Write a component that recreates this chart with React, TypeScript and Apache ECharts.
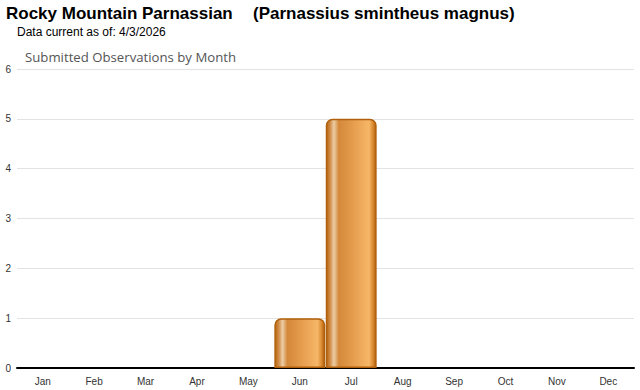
import React, { useEffect, useRef } from "react";
import * as echarts from "echarts";

const months = ["Jan", "Feb", "Mar", "Apr", "May", "Jun", "Jul", "Aug", "Sep", "Oct", "Nov", "Dec"];
const observations = [0, 0, 0, 0, 0, 1, 5, 0, 0, 0, 0, 0];
const yTicks = [0, 1, 2, 3, 4, 5, 6];
const titleMain = "Rocky Mountain Parnassian";
const titleSci = "(Parnassius smintheus magnus)";
const subtitle = "Data current as of: 4/3/2026";
const chartTitle = "Submitted Observations by Month";

export default function App() {
  const ref = useRef<HTMLDivElement>(null);
  useEffect(() => {
    if (!ref.current) return;
    const chart = echarts.init(ref.current, undefined, { renderer: "svg" });
    const barFill = new echarts.graphic.LinearGradient(0, 0, 1, 0, [
      { offset: 0, color: "#b8680f" },
      { offset: 0.07, color: "#cf8a45" },
      { offset: 0.15, color: "#ecccA4" },
      { offset: 0.25, color: "#d4883a" },
      { offset: 0.6, color: "#e9a152" },
      { offset: 0.86, color: "#f7b768" },
      { offset: 0.94, color: "#d98a30" },
      { offset: 1, color: "#b0600c" },
    ]);
    chart.setOption({
      animation: false,
      backgroundColor: "#ffffff",
      graphic: [
        {
          type: "text",
          left: 6,
          top: 5,
          style: { text: titleMain, font: "bold 17px 'Liberation Sans', Arial, sans-serif", fill: "#000" },
        },
        {
          type: "text",
          left: 253,
          top: 5,
          style: { text: titleSci, font: "bold 17px 'Liberation Sans', Arial, sans-serif", fill: "#000" },
        },
        {
          type: "text",
          left: 17,
          top: 26,
          style: { text: subtitle, font: "12px 'Liberation Sans', Arial, sans-serif", fill: "#000" },
        },
        {
          type: "text",
          left: 25,
          top: 50,
          style: { text: chartTitle, font: "13.2px 'Open Sans', 'DejaVu Sans', sans-serif", fill: "#555" },
        },
      ],
      grid: { left: 17, right: 6, top: 69, bottom: 22, containLabel: false },
      xAxis: {
        type: "category",
        data: months,
        axisLine: { lineStyle: { color: "#000", width: 2 } },
        axisTick: { alignWithLabel: true, length: 4, lineStyle: { color: "#ddd" } },
        axisLabel: { color: "#333", fontSize: 10, fontFamily: "'Liberation Sans', Arial, sans-serif", margin: 8 },
      },
      yAxis: {
        type: "value",
        min: 0,
        max: 6,
        interval: 1,
        axisLine: { show: false },
        axisTick: { show: false },
        splitLine: { lineStyle: { color: "#e3e3e3" } },
        axisLabel: {
          color: "#333",
          fontSize: 10,
          fontFamily: "'Liberation Sans', Arial, sans-serif",
          margin: 6,
          formatter: (v: number) => (yTicks.includes(v) ? String(v) : ""),
        },
      },
      series: [
        {
          type: "bar",
          data: observations.map((v) => (v === 0 ? { value: v, itemStyle: { opacity: 0 } } : v)),
          barCategoryGap: "1%",
          z: 1,
          itemStyle: {
            color: barFill,
            borderColor: "#b0600c",
            borderWidth: 1.5,
            borderRadius: [6, 6, 0, 0],
          },
        },
      ],
    });
    return () => chart.dispose();
  }, []);
  return <div ref={ref} style={{ position: "fixed", left: 0, top: 0, width: 640, height: 390 }} />;
}
